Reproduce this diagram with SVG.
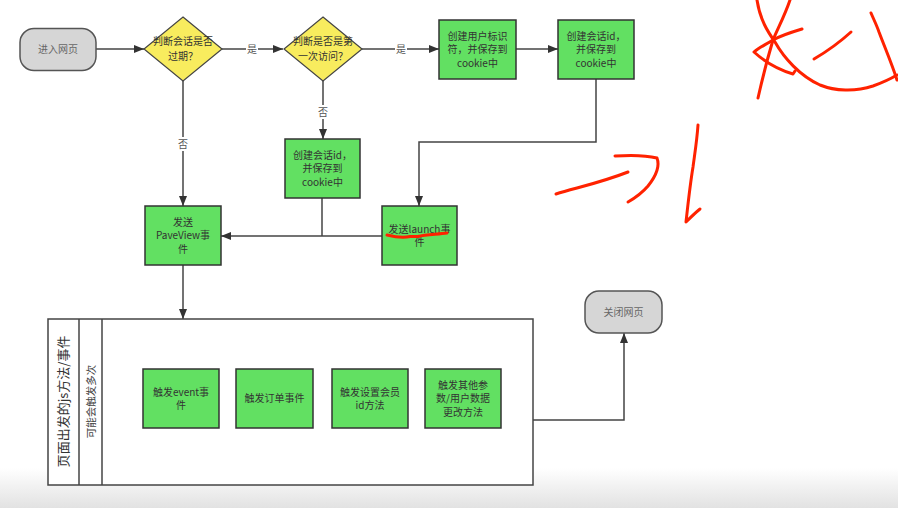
<svg xmlns="http://www.w3.org/2000/svg" width="898" height="508" viewBox="0 0 898 508">
<style>
text{font-family:"Noto Sans CJK SC","Liberation Sans",sans-serif;font-size:10px;fill:#333;text-anchor:middle}
.term{fill:#d6d6d6;stroke:#555;stroke-width:1.5}
.term-t{fill:#666}
.dec{fill:#f8ec5e;stroke:#444;stroke-width:1.2}
.proc{fill:#62e062;stroke:#333;stroke-width:1.5}
.edge{fill:none;stroke:#444;stroke-width:1.5}
.lbl-bg{fill:#fff}
.lbl{fill:#555}
.lane{fill:#fff;stroke:#444;stroke-width:1.5}
.red{fill:none;stroke:#ff2200;stroke-width:3;stroke-linecap:round;stroke-linejoin:round}
</style>
<defs>
<marker id="arr" markerUnits="userSpaceOnUse" markerWidth="10" markerHeight="8" refX="10" refY="4" orient="auto">
<path d="M0,0 L10,4 L0,8 z" fill="#333"/>
</marker>
<linearGradient id="bot" x1="0" y1="0" x2="0" y2="1">
<stop offset="0" stop-color="#ffffff"/>
<stop offset="1" stop-color="#e2e2e2"/>
</linearGradient>
</defs>
<rect x="0" y="0" width="898" height="508" fill="#fff"/>
<rect x="0" y="468" width="898" height="40" fill="url(#bot)"/>

<g id="connectors">
<path class="edge" d="M96,49 H144" marker-end="url(#arr)"/>
<path class="edge" d="M222,49 H283" marker-end="url(#arr)"/>
<path class="edge" d="M362,49 H439" marker-end="url(#arr)"/>
<path class="edge" d="M516,49 H558" marker-end="url(#arr)"/>
<path class="edge" d="M596,79 V142 H419 V206" marker-end="url(#arr)"/>
<path class="edge" d="M183,81 V206" marker-end="url(#arr)"/>
<path class="edge" d="M323,81 V139" marker-end="url(#arr)"/>
<path class="edge" d="M322,198 V236"/>
<path class="edge" d="M382,236 H221" marker-end="url(#arr)"/>
<path class="edge" d="M183,265 V319" marker-end="url(#arr)"/>
<path class="edge" d="M533,420 H624 V333" marker-end="url(#arr)"/>
<rect class="lbl-bg" x="246" y="42" width="12" height="14"/>
<text class="lbl" x="252" y="53">是</text>
<rect class="lbl-bg" x="395" y="42" width="12" height="14"/>
<text class="lbl" x="401" y="53">是</text>
<rect class="lbl-bg" x="177" y="137" width="12" height="14"/>
<text class="lbl" x="183" y="148">否</text>
<rect class="lbl-bg" x="317" y="105" width="12" height="14"/>
<text class="lbl" x="323" y="116">否</text>
</g>

<g id="start">
<rect class="term" x="20" y="28.5" width="76" height="42" rx="14"/>
<text class="term-t" x="58" y="53">进入网页</text>
</g>
<g id="d-expired">
<polygon class="dec" points="183,17 222,49 183,81 144,49"/>
<text x="183" y="45">判断会话是否</text>
<text x="183" y="59.5">过期？</text>
</g>
<g id="d-first">
<polygon class="dec" points="323,17 362,49 323,81 284,49"/>
<text x="323" y="45">判断是否是第</text>
<text x="323" y="59.5">一次访问？</text>
</g>
<g id="create-user">
<rect class="proc" x="439" y="20" width="77" height="59"/>
<text x="477.5" y="39.5">创建用户标识</text>
<text x="477.5" y="53">符，并保存到</text>
<text x="477.5" y="66.5">cookie中</text>
</g>
<g id="create-session-1">
<rect class="proc" x="558" y="20" width="76" height="59"/>
<text x="596" y="39.5">创建会话id，</text>
<text x="596" y="53">并保存到</text>
<text x="596" y="66.5">cookie中</text>
</g>
<g id="create-session-2">
<rect class="proc" x="285" y="139" width="75" height="59"/>
<text x="322.5" y="158.5">创建会话id，</text>
<text x="322.5" y="172">并保存到</text>
<text x="322.5" y="185.5">cookie中</text>
</g>
<g id="pageview">
<rect class="proc" x="145" y="206" width="76" height="59"/>
<text x="183" y="225.5">发送</text>
<text x="183" y="239">PaveView事</text>
<text x="183" y="252.5">件</text>
</g>
<g id="launch">
<rect class="proc" x="382" y="206" width="75" height="59"/>
<text x="419.5" y="232.5">发送launch事</text>
<text x="419.5" y="246">件</text>
</g>

<g id="container">
<rect class="lane" x="48" y="319" width="485" height="166"/>
<line class="edge" x1="79" y1="319" x2="79" y2="485"/>
<line class="edge" x1="102" y1="319" x2="102" y2="485"/>
<text x="0" y="0" transform="translate(68,401.5) rotate(-90)" style="font-size:13px">页面出发的js方法/事件</text>
<text x="0" y="0" transform="translate(94.5,401.5) rotate(-90)" style="font-size:10.5px;fill:#444">可能会触发多次</text>
</g>
<g id="event">
<rect class="proc" x="143" y="369" width="76" height="59"/>
<text x="181" y="395.5">触发event事</text>
<text x="181" y="409">件</text>
</g>
<g id="order">
<rect class="proc" x="236" y="369" width="77" height="59"/>
<text x="274.5" y="402">触发订单事件</text>
</g>
<g id="member">
<rect class="proc" x="332" y="369" width="76" height="59"/>
<text x="370" y="395.5">触发设置会员</text>
<text x="370" y="409">id方法</text>
</g>
<g id="other">
<rect class="proc" x="425" y="369" width="76" height="59"/>
<text x="463" y="388.5">触发其他参</text>
<text x="463" y="402">数/用户数据</text>
<text x="463" y="415.5">更改方法</text>
</g>
<g id="close">
<rect class="term" x="585" y="291" width="77" height="42" rx="14"/>
<text class="term-t" x="623.5" y="315.5">关闭网页</text>
</g>

<g id="annotations">
<path class="red" d="M387,235 C395,237 404,238 410,236.5 L418,236.5 C426,234 438,234.5 447,233"/>
<path class="red" d="M757,0 C760,20 768,32 775,42 C784,58 800,76 820,85 C835,91 855,92 873,86 C884,82 892,78 897,75"/>
<path class="red" d="M790,0 C785,15 778,28 773,40 C767,60 762,80 758,98"/>
<path class="red" d="M802,29 C792,32 780,36 773,40 C765,45 758,48 754,52 C765,62 780,70 793,74 L795,71"/>
<path class="red" d="M814,59 C826,52 840,42 851,32"/>
<path class="red" d="M871,13 C874,20 877,26 879,32 C885,48 892,64 897,80"/>
<path class="red" d="M556,194 C575,188 600,183 628,172"/>
<path class="red" d="M615,156 C630,155 645,155 657,158 C660,166 656,176 648,186 C642,193 635,198 628,202"/>
<path class="red" d="M698,125 C697,140 695,152 693,167 C690,185 688,204 686,222 C690,218 695,213 700,209"/>
</g>
</svg>
